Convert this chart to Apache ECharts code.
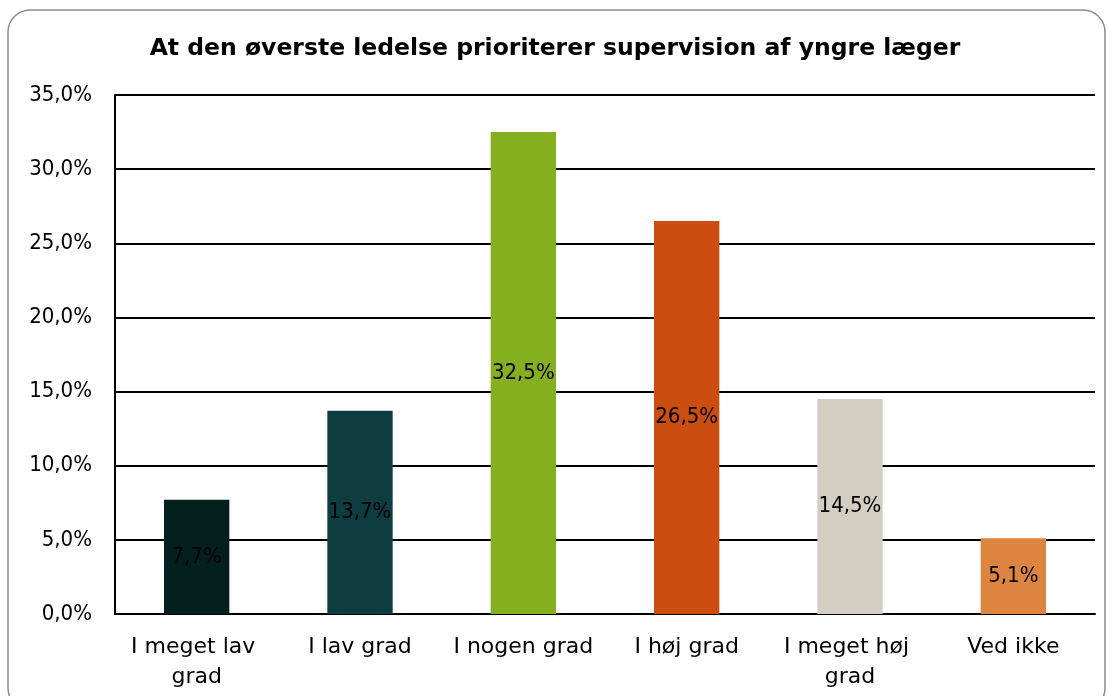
<!DOCTYPE html>
<html>
<head>
<meta charset="utf-8">
<script src="https://cdn.jsdelivr.net/npm/echarts@6/dist/echarts.min.js"></script>
<style>
  html, body { margin: 0; padding: 0; background: #fff; }
  #chart { width: 1110px; height: 696px; }
</style>
</head>
<body>
<div id="chart"></div>
<script>
  var titleText = 'At den øverste ledelse prioriterer supervision af yngre læger';
  var categories = ['I meget lav grad', 'I lav grad', 'I nogen grad', 'I høj grad', 'I meget høj grad', 'Ved ikke'];
  var values = [7.7, 13.7, 32.5, 26.5, 14.5, 5.1];
  var barColors = ['#04201e', '#0e3d41', '#86ae21', '#cb4d10', '#d3cec2', '#dd8540'];

  var numFont = 'DejaVu Sans Condensed';
  var textFont = 'DejaVu Sans';

  function pct(v) {
    return v.toFixed(1).replace('.', ',') + '%';
  }

  var chart = echarts.init(document.getElementById('chart'));

  var option = {
    animation: false,
    backgroundColor: '#fff',
    graphic: [{
      type: 'rect',
      shape: { x: 8, y: 10, width: 1097, height: 700, r: 22 },
      style: { fill: 'none', stroke: '#8c8c8c', lineWidth: 1.5 },
      silent: true
    }],
    title: {
      text: titleText,
      left: 'center',
      top: 32,
      textStyle: { fontFamily: textFont, fontWeight: 'bold', fontSize: 23.5, color: '#000' }
    },
    grid: { left: 115, right: 15, top: 95, bottom: 82, containLabel: false },
    xAxis: {
      type: 'category',
      data: categories,
      axisLine: { show: true, lineStyle: { color: '#000', width: 2 } },
      axisTick: { show: false },
      axisLabel: {
        interval: 0,
        margin: 18,
        width: 165,
        overflow: 'break',
        lineHeight: 30,
        fontFamily: textFont,
        fontSize: 22,
        color: '#000'
      }
    },
    yAxis: {
      type: 'value',
      min: 0,
      max: 35,
      interval: 5,
      axisLine: { show: true, lineStyle: { color: '#000', width: 2 } },
      axisTick: { show: false },
      splitLine: { lineStyle: { color: '#000', width: 1.8 } },
      axisLabel: {
        margin: 23,
        fontFamily: numFont,
        fontSize: 22,
        color: '#000',
        formatter: function (v) { return pct(v); }
      }
    },
    series: [{
      type: 'bar',
      barWidth: '40%',
      data: values.map(function (v, i) {
        return { value: v, itemStyle: { color: barColors[i] } };
      }),
      label: {
        show: true,
        position: 'inside',
        fontFamily: numFont,
        fontSize: 22,
        color: '#000',
        formatter: function (p) { return pct(p.value); }
      }
    }]
  };

  chart.setOption(option);
</script>
</body>
</html>
